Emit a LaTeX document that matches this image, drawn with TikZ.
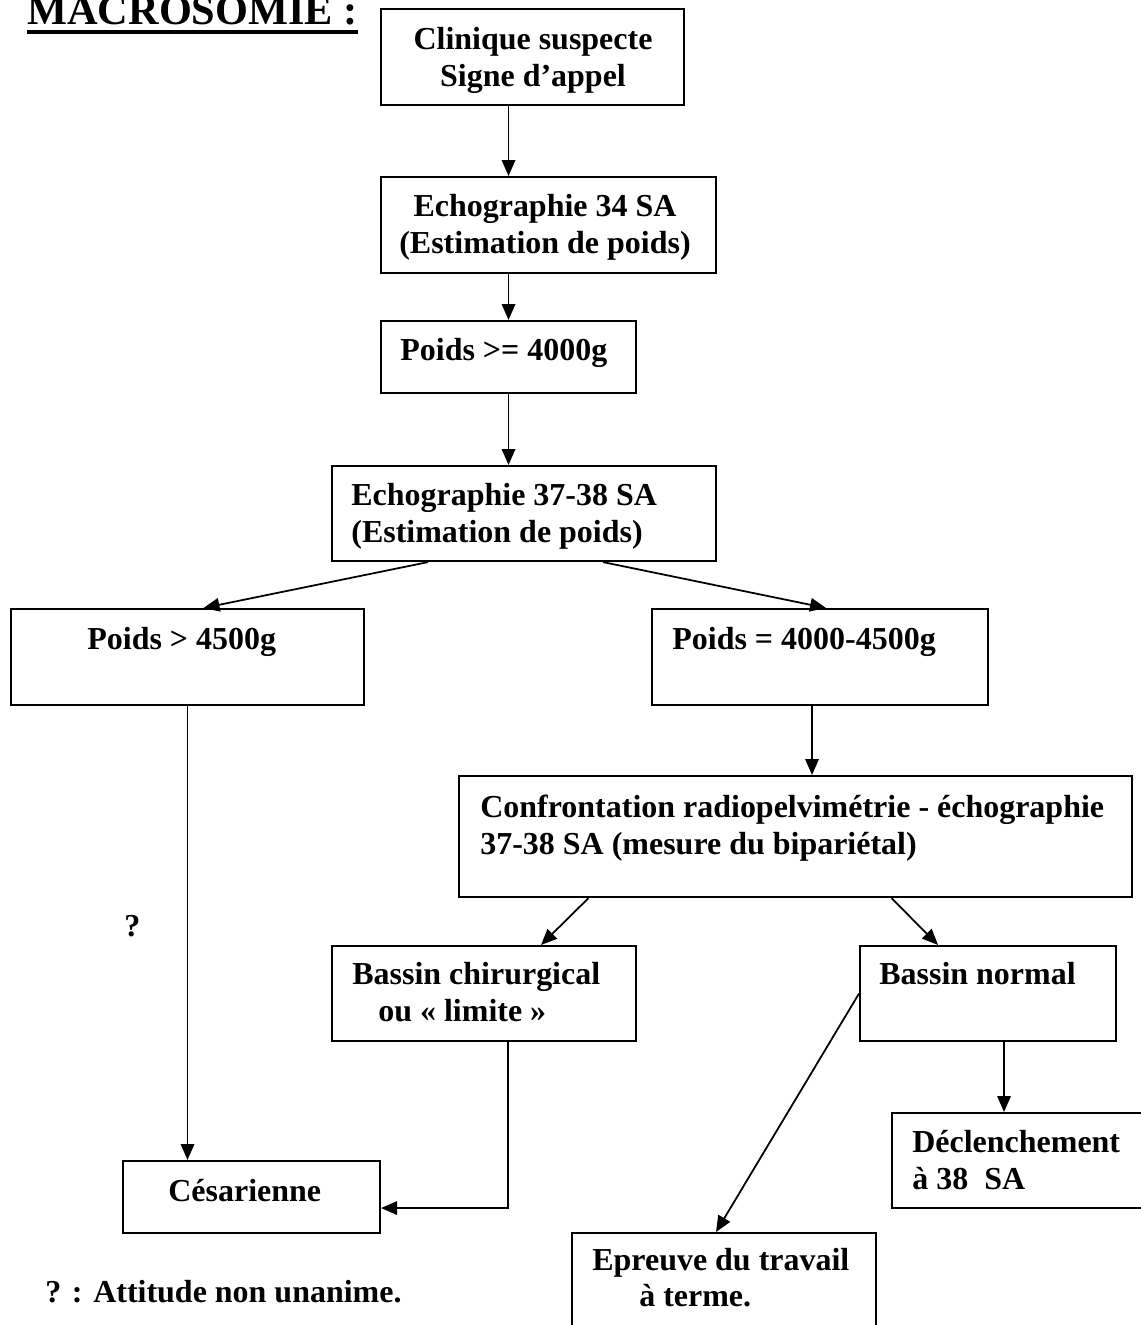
\documentclass[tikz,border=0pt]{standalone}
\usepackage{fontspec}
\setmainfont{Liberation Serif}
\usetikzlibrary{arrows.meta,calc}

\begin{document}
\begin{tikzpicture}[x=0.02cm,y=-0.02cm,
  box/.style={draw, line width=1.2pt, anchor=north west, inner sep=0pt},
  txt/.style={inner sep=0pt, align=left, anchor=base west, font=\fontsize{18.2}{20.5}\selectfont\bfseries},
  arr/.style={line width=1pt, -{Triangle[length=0.32cm,width=0.27cm]}}]
\useasboundingbox (0,0) rectangle (1141,1325);
% Title
\node[inner sep=0pt, anchor=base west, font=\fontsize{24.1}{29}\selectfont\bfseries] (ttl) at (27,25) {MACROSOMIE :};
\draw[line width=2.3pt] ($(ttl.base west)+(0,7)$) -- ($(ttl.base east)+(0,7)$);

% Boxes
\node[box, minimum width=6.06cm, minimum height=1.92cm] (cli) at (380,8) {};
\node[box, minimum width=6.70cm, minimum height=1.92cm] (e34) at (380,176) {};
\node[box, minimum width=5.10cm, minimum height=1.44cm] (p40) at (380,320) {};
\node[box, minimum width=7.68cm, minimum height=1.90cm] (e37) at (331,465) {};
\node[box, minimum width=7.06cm, minimum height=1.92cm] (p45) at (10,608) {};
\node[box, minimum width=6.72cm, minimum height=1.92cm] (p4045) at (651,608) {};
\node[box, minimum width=13.46cm, minimum height=2.42cm] (cnf) at (458,775) {};
\node[box, minimum width=6.08cm, minimum height=1.90cm] (bch) at (331,945) {};
\node[box, minimum width=5.12cm, minimum height=1.90cm] (bno) at (859,945) {};
\node[box, minimum width=5.00cm, minimum height=1.90cm] (dec) at (891,1112) {};
\node[box, minimum width=5.14cm, minimum height=1.44cm] (ces) at (122,1160) {};
\node[box, minimum width=6.08cm, minimum height=2.40cm] (ept) at (571,1232) {};

% Texts (two-line texts sit on their last line)
\node[txt, align=center, anchor=base] (tcli) at (533,86) {Clinique suspecte\\Signe d’appel};
\node[txt, align=center, anchor=base] (te34) at (545,253) {Echographie 34 SA\\(Estimation de poids)};
\node[txt] (tp40) at (400,360) {Poids >= 4000g};
\node[txt] (te37) at (351,542) {Echographie 37-38 SA\\(Estimation de poids)};
\node[txt] (tp45) at (87,649) {Poids > 4500g};
\node[txt] (tp4045) at (672,649) {Poids = 4000-4500g};
\node[txt] (tcnf) at (480,854) {Confrontation radiopelvimétrie - échographie\\37-38 SA (mesure du bipariétal)};
\node[txt] (tbch) at (352,1021) {Bassin chirurgical\\\hspace*{0.52cm}ou « limite »};
\node[txt] (tbno) at (879,984) {Bassin normal};
\node[txt] (tdec) at (912,1189) {Déclenchement\\à 38\ \ SA};
\node[txt] (tces) at (168,1201) {Césarienne};
\node[txt] (tept) at (592,1306) {Epreuve du travail\\\hspace*{0.94cm}à terme.};
\node[txt] (qm) at (124,936) {?};
\node[txt] (lgd) at (45,1302) {? : Attitude non unanime.};

% Connectors
\draw[arr] (cli.south -| p40.north) -- (e34.north -| p40.north);
\draw[arr] (e34.south -| p40.north) -- (p40.north);
\draw[arr] (p40.south) -- (p40.south |- e37.north);
\draw[arr] ($(e37.south)+(-96,0)$) -- ($(p45.north)+(16,0)$);
\draw[arr] ($(e37.south)+(79,0)$) -- ($(p4045.north)+(6,0)$);
\draw[arr] (p45.south) -- (p45.south |- ces.north);
\coordinate (c1) at ($(p4045.south)+(-8,0)$);
\draw[arr] (c1) -- (c1 |- cnf.north);
\draw[arr] ($(cnf.south)+(-207,0)$) -- ($(bch.north)+(57,0)$);
\draw[arr] ($(cnf.south)+(96,0)$) -- ($(bno.north)+(-50,0)$);
\coordinate (c2) at ($(bch.south)+(24,0)$);
\draw[arr] (c2) |- ($(ces.east)+(0,11)$);
\coordinate (c3) at ($(bno.south)+(16,0)$);
\draw[arr] (c3) -- (c3 |- dec.north);
\draw[arr] (bno.west) -- ($(ept.north)+(-8,0)$);
\end{tikzpicture}
\end{document}
